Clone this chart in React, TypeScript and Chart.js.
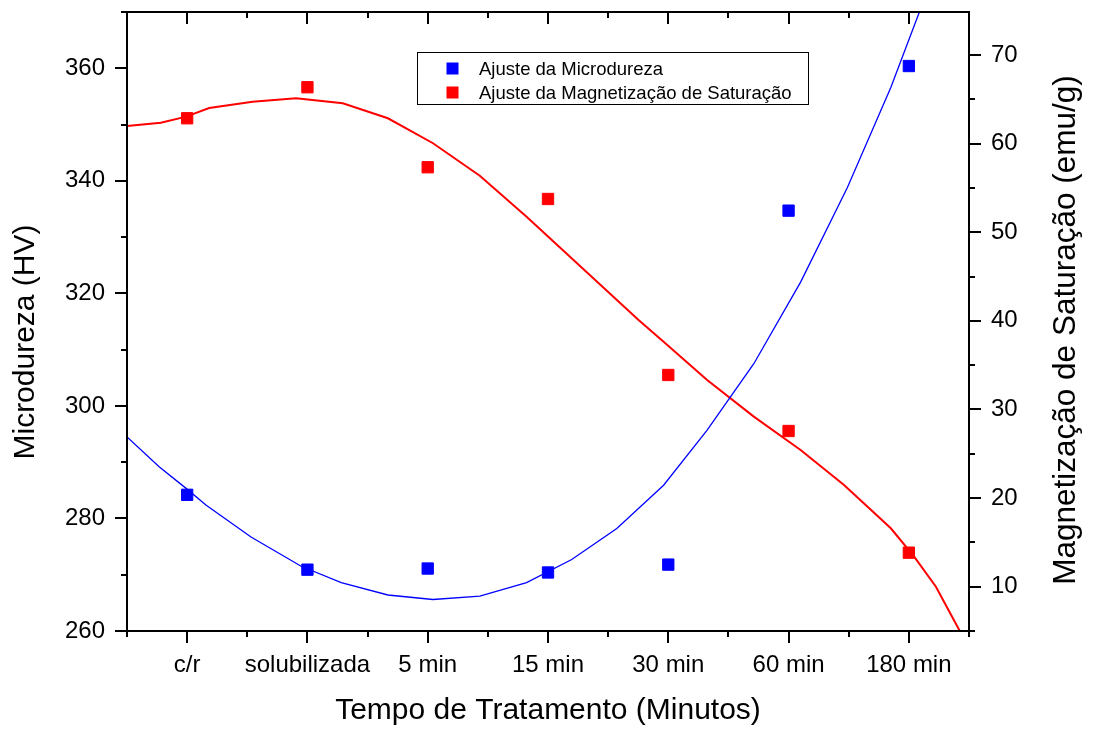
import React, { useEffect, useRef } from "react";
import { Chart, registerables } from "chart.js";

Chart.register(...registerables);

// ---------- data ----------
const categories = ["c/r", "solubilizada", "5 min", "15 min", "30 min", "60 min", "180 min"];
const categoryIndex = [0, 1, 2, 3, 4, 5, 6];

const microdureza = [284.2, 270.9, 271.1, 270.4, 271.8, 334.7, 360.4];
const magnetizacao = [62.86, 66.36, 57.33, 53.75, 33.89, 27.57, 13.84];

const fitMicroX = [-0.5, -0.233, -0.006, 0.156, 0.531, 0.948, 1.281, 1.669, 2.044, 2.433, 2.822, 3.197, 3.572, 3.961, 4.323, 4.711, 5.1, 5.489, 5.85, 6.086, 6.3];
const fitMicroY = [294.5, 289.2, 285.3, 282.4, 276.7, 271.5, 268.6, 266.4, 265.6, 266.2, 268.6, 272.7, 278.2, 285.9, 295.7, 307.5, 322.0, 338.8, 356.6, 369.9, 381.9];

const fitMagX = [-0.5, -0.219, -0.008, 0.183, 0.544, 0.906, 1.294, 1.669, 2.044, 2.433, 2.822, 3.753, 3.961, 4.323, 4.711, 5.1, 5.461, 5.85, 6.044, 6.225, 6.419, 6.5];
const fitMagY = [61.99, 62.36, 63.04, 64.02, 64.73, 65.11, 64.55, 62.86, 60.04, 56.38, 51.75, 40.1, 37.65, 33.33, 29.19, 25.43, 21.48, 16.59, 13.39, 10.0, 5.12, 3.0];

const leftTicks = [260, 280, 300, 320, 340, 360];
const leftMinorStep = 10;
const rightTicks = [10, 20, 30, 40, 50, 60, 70];
const rightMinorStep = 5;

const seriesLabels = ["Ajuste da Microdureza", "Ajuste da Magnetização de Saturação"];
const xTitle = "Tempo de Tratamento (Minutos)";
const yTitle = "Microdureza (HV)";
const y1Title = "Magnetização de Saturação (emu/g)";

// ---------- styles ----------
const BLUE = "#0000FF";
const RED = "#FF0000";
const FONT = "'Liberation Sans', Arial, sans-serif";

const framePlugin = {
  id: "frameTicks",
  afterDatasetsDraw(chart: any) {
    const { ctx, chartArea, scales } = chart;
    const { left, right, top, bottom } = chartArea;
    ctx.save();
    ctx.strokeStyle = "#000";
    ctx.lineWidth = 2;
    ctx.beginPath();
    const xs = scales.x;
    for (let v = xs.min; v <= xs.max + 1e-6; v += 0.5) {
      const px = Math.round(xs.getPixelForValue(v));
      const major = Math.abs(v - Math.round(v)) < 1e-6;
      const len = major ? 12 : 6;
      ctx.moveTo(px, bottom);
      ctx.lineTo(px, bottom + len);
      ctx.moveTo(px, top);
      ctx.lineTo(px, top + len);
    }
    const ys = scales.y;
    for (let v = ys.min; v <= ys.max + 1e-6; v += leftMinorStep) {
      const py = Math.round(ys.getPixelForValue(v));
      const major = leftTicks.includes(v);
      const len = major ? 12 : 6;
      ctx.moveTo(left, py);
      ctx.lineTo(left - len, py);
    }
    const y1 = scales.y1;
    for (let v = Math.ceil(y1.min / rightMinorStep) * rightMinorStep; v <= y1.max + 1e-6; v += rightMinorStep) {
      const py = Math.round(y1.getPixelForValue(v));
      const major = rightTicks.includes(v);
      const len = major ? 12 : 6;
      ctx.moveTo(right, py);
      ctx.lineTo(right + len, py);
    }
    ctx.stroke();
    ctx.strokeRect(left, top, right - left, bottom - top);
    ctx.restore();
  },
  afterDraw(chart: any) {
    const { ctx } = chart;
    ctx.save();
    ctx.fillStyle = "#000";
    ctx.textAlign = "center";
    ctx.textBaseline = "middle";
    // left axis title
    ctx.font = `30px ${FONT}`;
    ctx.save();
    ctx.translate(26, 342);
    ctx.rotate(-Math.PI / 2);
    ctx.fillText(yTitle, 0, 0);
    ctx.restore();
    // right axis title
    ctx.font = `31.5px ${FONT}`;
    ctx.save();
    ctx.translate(1066, 330);
    ctx.rotate(-Math.PI / 2);
    ctx.fillText(y1Title, 0, 0);
    ctx.restore();

    // legend
    const bx = 417.5, by = 52.5, bw = 391, bh = 52;
    ctx.strokeStyle = "#000";
    ctx.lineWidth = 1;
    ctx.strokeRect(bx, by, bw, bh);
    const colors = [BLUE, RED];
    ctx.font = `18.5px ${FONT}`;
    ctx.textAlign = "left";
    ctx.textBaseline = "alphabetic";
    seriesLabels.forEach((lab, i) => {
      const cy = 68.5 + i * 24;
      ctx.fillStyle = colors[i];
      ctx.fillRect(446.5, cy - 6, 12, 12);
      ctx.fillStyle = "#000";
      ctx.fillText(lab, 479, cy + 6.5);
    });
    ctx.restore();
  },
};

const noPad = (s: any) => {
  s.paddingTop = 0;
  s.paddingBottom = 0;
  s.paddingLeft = 0;
  s.paddingRight = 0;
};

export default function App() {
  const ref = useRef<HTMLCanvasElement | null>(null);

  useEffect(() => {
    if (!ref.current) return;
    const chart = new Chart(ref.current, {
      type: "scatter",
      data: {
        datasets: [
          {
            label: seriesLabels[0],
            data: categoryIndex.map((x, i) => ({ x, y: microdureza[i] })),
            yAxisID: "y",
            backgroundColor: BLUE,
            borderColor: BLUE,
            borderWidth: 1,
            pointStyle: "rect",
            pointRadius: 8,
            pointHoverRadius: 8,
            showLine: false,
          },
          {
            label: seriesLabels[1],
            data: categoryIndex.map((x, i) => ({ x, y: magnetizacao[i] })),
            yAxisID: "y1",
            backgroundColor: RED,
            borderColor: RED,
            borderWidth: 1,
            pointStyle: "rect",
            pointRadius: 8,
            pointHoverRadius: 8,
            showLine: false,
          },
          {
            label: "fit micro",
            data: fitMicroX.map((x, i) => ({ x, y: fitMicroY[i] })),
            yAxisID: "y",
            borderColor: BLUE,
            borderWidth: 1.3,
            pointRadius: 0,
            showLine: true,
            tension: 0,
            clip: 0,
          } as any,
          {
            label: "fit mag",
            data: fitMagX.map((x, i) => ({ x, y: fitMagY[i] })),
            yAxisID: "y1",
            borderColor: RED,
            borderWidth: 2,
            pointRadius: 0,
            showLine: true,
            tension: 0,
            clip: 0,
          } as any,
        ],
      },
      options: {
        animation: false,
        responsive: true,
        maintainAspectRatio: false,
        events: [],
        layout: { padding: { top: 12, left: 0, right: 0, bottom: 0 } },
        plugins: {
          legend: { display: false },
          tooltip: { enabled: false },
        },
        scales: {
          x: {
            type: "linear",
            position: "bottom",
            min: -0.5,
            max: 6.5,
            afterBuildTicks: (s: any) => {
              s.ticks = categoryIndex.map((v) => ({ value: v }));
            },
            afterFit: (s: any) => {
              s.height = 98;
              noPad(s);
            },
            ticks: {
              callback: (v: any) => categories[Math.round(Number(v))] ?? "",
              font: { family: FONT, size: 24 },
              color: "#000",
              padding: 8,
              maxRotation: 0,
              autoSkip: false,
            },
            grid: { display: true, drawOnChartArea: false, color: "rgba(0,0,0,0)", tickLength: 12 },
            border: { display: false },
            title: {
              display: true,
              text: xTitle,
              font: { family: FONT, size: 30 },
              color: "#000",
              padding: { top: 0, bottom: 0 },
            },
          },
          y: {
            type: "linear",
            position: "left",
            min: 260,
            max: 370,
            afterBuildTicks: (s: any) => {
              s.ticks = leftTicks.map((v) => ({ value: v }));
            },
            afterFit: (s: any) => {
              s.width = 127;
              noPad(s);
            },
            ticks: {
              font: { family: FONT, size: 24 },
              color: "#000",
              padding: 10,
            },
            grid: { display: true, drawOnChartArea: false, color: "rgba(0,0,0,0)", tickLength: 12 },
            border: { display: false },
          },
          y1: {
            type: "linear",
            position: "right",
            min: 5,
            max: 74.85,
            afterBuildTicks: (s: any) => {
              s.ticks = rightTicks.map((v) => ({ value: v }));
            },
            afterFit: (s: any) => {
              s.width = 125;
              noPad(s);
            },
            ticks: {
              font: { family: FONT, size: 24 },
              color: "#000",
              padding: 10,
            },
            grid: { display: true, drawOnChartArea: false, color: "rgba(0,0,0,0)", tickLength: 12 },
            border: { display: false },
          },
        },
      },
      plugins: [framePlugin],
    } as any);
    return () => chart.destroy();
  }, []);

  return (
    <div style={{ position: "fixed", left: 0, top: 0, width: 1094, height: 729, background: "#fff" }}>
      <canvas ref={ref} />
    </div>
  );
}
